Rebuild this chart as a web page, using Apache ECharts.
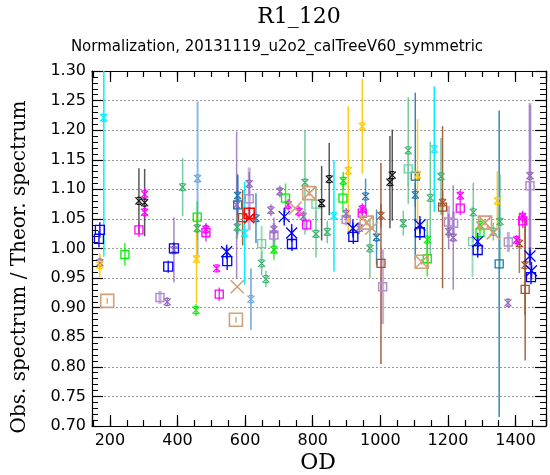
<!DOCTYPE html>
<html><head><meta charset="utf-8">
<script src="https://cdn.jsdelivr.net/npm/echarts@6.0.0/dist/echarts.min.js"></script>
<style>html,body{margin:0;padding:0;background:#fff}#c{width:550px;height:475px}</style>
</head><body><div id="c"></div>
<script>
// ---- data: each entry [OD, ratio, error] ----
const cyanX = [[182,1.221,0.235],[598.5,1.026,0.087],[862.7,1.055,0.094],[1159.5,1.168,0.106]];
const blackX = [[285.8,1.0805,0.055],[302.7,1.0776,0.057],[826.3,1.0766,0.063],[848.8,1.1173,0.061],[1028.4,1.1122,0.078],[1035.2,1.124,0.077]];
const magentaX = [[302.7,1.0919,0.01],[302.7,1.0614,0.01],[484,1.0325,0.01],[515.7,0.9664,0.005],[727.5,1.0737,0.01],[759.2,1.0624,0.01],[946.5,1.0664,0.01],[1236.4,1.0895,0.01],[1403.3,1.0144,0.008],[1421,1.054,0.01]];
const magentaSq = [[285.8,1.0314,0.012],[484,1.0268,0.015],[523.4,0.9229,0.011],[782,1.0398,0.009],[946.5,1.0597,0.012],[1236.4,1.0681,0.012],[1421,1.0466,0.012]];
const blueSq = [[170.4,1.0314,0.013],[167.5,1.0161,0.014],[372.5,0.9692,0.01],[389.4,1.0003,0.01],[547,0.9788,0.015],[738.5,1.0076,0.012],[920,1.0195,0.012],[1117,1.0275,0.013],[1287.9,0.9975,0.013],[1445.6,0.9517,0.012]];
const blueStar = [[545.3,0.9946,0.012],[715.7,1.0539,0.015],[737.6,1.0263,0.015],[918.8,1.0342,0.015],[1117,1.0398,0.015],[1287.9,1.0116,0.015],[1442.6,0.9873,0.015],[1447,0.9624,0.015]];
const limeSq = [[244.4,0.9902,0.019],[458.3,1.0529,0.027],[719.5,1.085,0.025],[889.3,1.085,0.025],[1138.7,0.9827,0.03],[1294.7,1.0268,0.01]];
const limeX = [[454.4,0.8958,0.01],[685.2,0.998,0.017],[890.2,1.1144,0.015],[1138.7,1.015,0.035],[1294.7,1.0398,0.01]];
const goldX = [[170.4,0.972,0.02],[456.2,0.9822,0.075],[905,1.1314,0.109],[946.5,1.2064,0.08],[1110.1,1.1246,0.094],[1345.9,1.0805,0.05]];
const purpleX = [[170.4,0.976,0.01],[389.4,0.9975,0.055],[369.5,0.9098,0.008],[574.8,1.0737,0.124],[612.1,1.1093,0.02],[676.3,1.0647,0.01],[685.2,1.0322,0.02],[703,1.0963,0.01],[771.9,1.0539,0.01],[899,1.0585,0.01],[937.6,1.0347,0.01],[1202,1.0285,0.03],[1215.7,1.0186,0.088],[1377.5,0.9081,0.008],[1442.6,1.1229,0.12]];
const lavenderSq = [[348,0.9173,0.011],[612.1,1.0839,0.053],[685.2,1.0229,0.02],[899,1.0492,0.01],[1006.7,0.9353,0.063],[1201.5,1.0449,0.027],[1216.6,1.0427,0.02],[1378.6,1.011,0.017],[1442.6,1.106,0.14]];
const tanSq = [[192,0.9115,0.005],[572.8,0.8797,0.005],[789.7,1.0936,0.005],[959.5,1.0437,0.005],[1122.2,0.9776,0.005],[1309.5,1.0437,0.005]];
const tanX = [[576.6,0.9353],[748,1.0681],[789.7,1.0936],[959.5,1.0437],[974.2,1.0342],[1122.2,0.9776],[1309.5,1.0437],[1334,1.0263]];
const steelX = [[577.8,1.0895,0.036],[632,1.0512,0.042],[956.3,1.0881,0.03],[988.8,1.019,0.047],[1103.3,1.0907,0.02]];
const steelSq = [[577.8,1.0737,0.05],[1103.3,1.1224,0.141],[1351.5,0.9741,0.259]];
const skyX = [[459.4,1.1183,0.13],[617.2,0.9144,0.052]];
const seaX = [[415.1,1.1037,0.049],[458.3,1.0342,0.02],[576.6,1.0359,0.02],[648.8,0.9749,0.02],[661.5,0.9483,0.014],[776.9,1.1115,0.088],[809.5,1.0246,0.04],[842.9,1.028,0.019],[969.2,1.0003,0.05],[1067.8,1.0427,0.021],[1082.5,1.1658,0.09],[1147.7,1.0856,0.095],[1179.3,1.1217,0.065],[1274.9,1.061,0.05],[1334,1.0285,0.015],[1353.9,1.0454,0.08]];
const mintSq = [[648.8,1.0081,0.03],[809.5,1.0749,0.03],[1082.5,1.1347,0.03],[1272.8,1.0115,0.06]];
const brownX = [[1001.8,1.0556,0.02],[1184,1.0776,0.02],[1411.3,1.0085,0.05],[1427.8,0.972,0.085]];
const brownSq = [[592.6,1.0522,0.047],[1001.8,0.9749,0.17],[1184,1.0698,0.137],[1428.4,0.9308,0.12]];
const redSq = [[612.1,1.0597,0.01]];
const redX = [[612.1,1.0512]];
const xTicksMajor = [200,400,600,800,1000,1200,1400];

const X_MIN = 147, X_MAX = 1490, Y_MIN = 0.70, Y_MAX = 1.30;

const SYM_X = 'path://M0,0L10,10M10,0L0,10M2,0L8,0M2,10L8,10';
const SYM_STAR = 'path://M0,0L10,10M10,0L0,10M5,0L5,10';
const SYM_BIGX = 'path://M0,0L10,10M10,0L0,10';
const SYM_SQ = 'path://M0,0L10,0L10,10L0,10Z';

function errSeries(data, color, width, opacity) {
  return {
    type: 'custom', xAxisIndex: 0, yAxisIndex: 0, z: 2, silent: true,
    data: data.filter(d => d.length > 2),
    renderItem: function (params, api) {
      const x = api.value(0), y = api.value(1), e = api.value(2);
      const lo = Math.max(Y_MIN, y - e), hi = Math.min(Y_MAX, y + e);
      const p1 = api.coord([x, lo]), p2 = api.coord([x, hi]);
      return { type: 'line', shape: { x1: p1[0], y1: p1[1], x2: p2[0], y2: p2[1] },
        style: { stroke: color, lineWidth: width, opacity: opacity } };
    }
  };
}
function markSeries(data, color, symbol, size, bw) {
  return {
    type: 'scatter', xAxisIndex: 0, yAxisIndex: 0, z: 3, silent: true,
    data: data.map(d => [d[0], d[1]]), symbol: symbol, symbolSize: size,
    itemStyle: { color: 'rgba(0,0,0,0)', borderColor: color, borderWidth: bw, opacity: 1 }
  };
}

const C = {
  cyan: '#00f0ff', black: '#111111', magenta: '#ff00ff', blue: '#0000ff', lime: '#00ee00',
  gold: '#ffc800', purple: '#9467bd', lavender: '#b08fcf', tan: '#d2a07a', steel: '#1f77b4',
  sky: '#6fa8e0', sea: '#3cb371', mint: '#6fcf9f', brown: '#a0522d', red: '#ff0000'
};

const series = [
  errSeries(lavenderSq, C.lavender, 3, 0.7),
  errSeries(purpleX, C.purple, 1.5, 0.8),
  errSeries(steelSq, C.steel, 1.5, 0.9),
  errSeries(steelX, C.steel, 1.5, 0.8),
  errSeries(skyX, C.sky, 2, 0.8),
  errSeries(seaX, C.sea, 1.5, 0.7),
  errSeries(mintSq, C.mint, 2, 0.7),
  errSeries(cyanX, C.cyan, 1.5, 1),
  errSeries(blackX, C.black, 1.5, 0.7),
  errSeries(goldX, C.gold, 1.5, 0.9),
  errSeries(brownSq, C.brown, 1.5, 0.9),
  errSeries(brownX, C.brown, 1.5, 0.8),
  errSeries(magentaSq, C.magenta, 1.5, 0.8),
  errSeries(magentaX, C.magenta, 1.5, 0.8),
  errSeries(limeSq, C.lime, 1.5, 0.8),
  errSeries(limeX, C.lime, 1.5, 0.8),
  errSeries(blueSq, C.blue, 1.5, 0.9),
  errSeries(blueStar, C.blue, 1.5, 0.9),
  errSeries(tanSq, C.tan, 1.5, 0.9),
  errSeries(redSq, C.red, 1.5, 0.9),
  markSeries(lavenderSq, C.lavender, SYM_SQ, 8, 1.5),
  markSeries(purpleX, C.purple, SYM_X, 7, 1.3),
  markSeries(steelSq, C.steel, SYM_SQ, 8, 1.3),
  markSeries(steelX, C.steel, SYM_X, 7, 1.3),
  markSeries(skyX, C.sky, SYM_X, 7, 1.3),
  markSeries(seaX, C.sea, SYM_X, 7, 1.3),
  markSeries(mintSq, C.mint, SYM_SQ, 8, 1.3),
  markSeries(cyanX, C.cyan, SYM_X, 7, 1.3),
  markSeries(blackX, C.black, SYM_X, 7, 1.3),
  markSeries(goldX, C.gold, SYM_X, 7, 1.3),
  markSeries(brownSq, C.brown, SYM_SQ, 8, 1.3),
  markSeries(brownX, C.brown, SYM_X, 7, 1.3),
  markSeries(magentaSq, C.magenta, SYM_SQ, 8, 1.3),
  markSeries(magentaX, C.magenta, SYM_X, 7, 1.3),
  markSeries(limeSq, C.lime, SYM_SQ, 8, 1.3),
  markSeries(limeX, C.lime, SYM_X, 7, 1.3),
  markSeries(blueSq, C.blue, SYM_SQ, 9, 1.3),
  markSeries(blueStar, C.blue, SYM_STAR, 11, 1.3),
  markSeries(tanSq, C.tan, SYM_SQ, 13, 1.6),
  markSeries(tanX, C.tan, SYM_BIGX, 13, 1.6),
  markSeries(redSq, C.red, SYM_SQ, 10, 1.6),
  markSeries(redX, C.red, SYM_BIGX, 10, 1.6)
];

const tickColor = '#000';
function xAx(pos, split, len, showLine, showLabel) {
  return {
    type: 'value', position: pos, min: X_MIN, max: X_MAX, splitNumber: split,
    axisLine: { show: showLine, onZero: false, lineStyle: { color: '#000', width: 1.2 } },
    axisTick: { show: true, inside: true, length: len, lineStyle: { color: tickColor, width: 1.2 } },
    axisLabel: { show: showLabel, margin: 7, fontSize: 16, color: '#000', fontFamily: 'DejaVu Sans',
      formatter: v => (xTicksMajor.indexOf(Math.round(v)) >= 0 && Math.abs(v - Math.round(v)) < 1e-6) ? String(Math.round(v)) : '' },
    splitLine: { show: false }
  };
}
function yAx(pos, showLabel, showSplit) {
  return {
    type: 'value', position: pos, min: Y_MIN, max: Y_MAX, interval: 0.05,
    axisLine: { show: true, onZero: false, lineStyle: { color: '#000', width: 1.2 } },
    axisTick: { show: true, inside: true, length: 11, lineStyle: { color: tickColor, width: 1.2 } },
    minorTick: { show: true, splitNumber: 5, length: 6, lineStyle: { color: tickColor, width: 1 } },
    axisLabel: { show: showLabel, margin: 6, fontSize: 16, color: '#000', fontFamily: 'DejaVu Sans',
      formatter: v => v.toFixed(2) },
    splitLine: { show: showSplit, lineStyle: { color: '#999999', width: 1, type: [2, 2] } }
  };
}

const chart = echarts.init(document.getElementById('c'), null, { renderer: 'canvas' });
chart.setOption({
  animation: false,
  backgroundColor: '#fff',
  grid: { left: 92, top: 71, right: 4, bottom: 49, containLabel: false },
  xAxis: [
    xAx('bottom', 7, 11, true, true),
    xAx('top', 7, 11, true, false),
    xAx('bottom', 27, 6, false, false),
    xAx('top', 27, 6, false, false)
  ],
  yAxis: [yAx('left', true, true), yAx('right', false, false)],
  series: series,
  graphic: [
    { type: 'text', x: 299, y: 17, style: { text: 'R1_120', font: '22px "DejaVu Serif"', fill: '#000', align: 'center', verticalAlign: 'middle' } },
    { type: 'text', x: 277, y: 47, style: { text: 'Normalization, 20131119_u2o2_calTreeV60_symmetric', font: '15px "DejaVu Sans"', fill: '#000', align: 'center', verticalAlign: 'middle' } },
    { type: 'text', x: 318, y: 463, style: { text: 'OD', font: '22px "DejaVu Serif"', fill: '#000', align: 'center', verticalAlign: 'middle' } },
    { type: 'text', x: 20, y: 267, rotation: Math.PI / 2, style: { text: 'Obs. spectrum / Theor. spectrum', font: '20px "DejaVu Serif"', fill: '#000', align: 'center', verticalAlign: 'middle' } }
  ]
});
</script></body></html>
